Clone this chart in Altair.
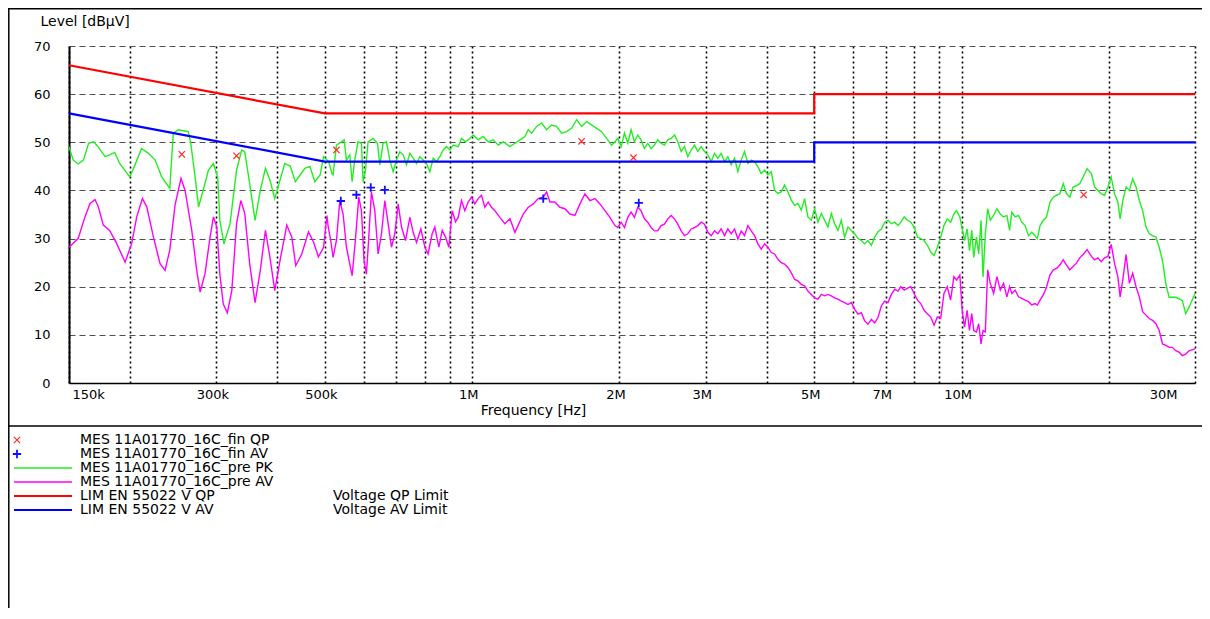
import altair as alt
import pandas as pd

FONT = "DejaVu Sans"

# ---------------- data (frequencies in kHz, levels in dBuV) ----------------
green_f_khz = [
    150, 153, 156.6, 160.5, 164.5, 168.4, 172.2, 177.8, 181.6, 186, 190.4, 199.6, 204, 211, 218, 225,
    232, 241, 245, 251, 263, 266, 271, 276, 282, 289, 296, 302, 305, 311, 320, 330, 338, 343, 351,
    360, 369, 378, 386, 395, 405, 414, 425, 435, 445, 455, 466, 477, 489, 497, 509, 517,
    519.7, 528, 540.6, 547.4, 553.4, 562.2, 568.4, 575.4, 584.6, 593.9, 598.5, 605.2, 612.8, 627.4,
    640.4, 647.5, 657.7, 668.1, 678.7, 689.4, 700.4, 711.5, 722.7, 734.2, 745.8, 757.6, 769.7, 781.8,
    794.2, 806.7, 819.5, 832.5, 845.6, 858.9, 872.5, 886.3, 900.3, 914.5, 936.3, 951, 969.1, 989,
    1004.7, 1028.7, 1053.2, 1078.2, 1104, 1130.3, 1157.2, 1194.3, 1222.8, 1251.9, 1281.7, 1302,
    1322.6, 1354.2, 1386.4, 1419.3, 1453.1, 1487.7, 1523, 1559.3, 1596.3, 1634.6, 1673.5, 1713.3,
    1753.9, 1796, 1838.7, 1882.4, 1927.2, 1957.6,
    1984, 2016, 2047.5, 2079.7, 2112.3, 2145.7, 2179.6, 2214.1, 2249.1, 2284.6, 2321, 2357.6,
    2394.8, 2432.6, 2471.1, 2510.2, 2550.4, 2590.6, 2631.6, 2673.2, 2715.4, 2758.3, 2802.5, 2846.7,
    2891.6, 2937.3, 2983.7, 3030.8, 3079.3, 3127.9, 3177.3, 3227.5, 3278.4, 3330.2, 3383.5, 3437,
    3491.3, 3546.4, 3602.4, 3659.3, 3717.9, 3776.6, 3836.2, 3896.8, 3958.3, 4020.8, 4085.2, 4149.6,
    4215.2, 4281.7, 4349.3, 4418, 4488.7, 4559.6, 4631.6, 4704.7, 4779, 4854.4, 4932.1, 5010, 5089,
    5169.4, 5251, 5333.9, 5419.3, 5504.8, 5591.7, 5680, 5769.7, 5860.8, 5954.6, 6048.6, 6144, 6241.2,
    6339.7, 6439.7, 6542.9, 6646.1, 6751, 6857.6, 6965.9, 7075.9, 7189.2, 7302.6, 7418,
    7517, 7635, 7756, 7878, 8002, 8128, 8256, 8385, 8517, 8651, 8788, 8925, 9066, 9207, 9352, 9499,
    9647, 9770, 9922, 10031, 10141, 10268, 10380, 10495, 10593, 10725, 10843, 10962, 11065, 11186,
    11310, 11451, 11630, 11814, 12000, 12188, 12380, 12536, 12672, 12871, 13075, 13279, 13489,
    13702, 13915, 14134, 14288, 14469, 14694, 14926, 15160, 15399, 15642, 15885, 16136, 16391,
    16646, 16904, 17178, 17445, 17721, 18055, 18425, 18707, 19003, 19299, 19604, 19913, 20223,
    20541, 20866, 21093, 21357, 21694, 22029, 22377, 22732, 23085, 23450, 23820, 24191, 24573,
    24961, 25349, 25749, 26156, 26563, 26977, 27404, 27830, 28270, 28716, 29163, 30000,
]
green_db = [
    49.1, 46.3, 45.5, 46.3, 49.8, 50.1, 49.0, 47.0, 47.4, 47.9, 45.6, 42.8, 45.0, 48.7, 47.7, 46.3,
    42.8, 40.4, 51.9, 52.6, 52.2, 49.8, 43.5, 36.6, 40.0, 44.2, 45.6, 42.8, 33.8, 28.9, 33.1, 44.2,
    48.4, 48.0, 41.4, 33.8, 40.0, 44.6, 42.2, 38.3, 42.2, 45.6, 45.0, 41.8, 43.2, 44.6, 45.0, 41.8,
    43.2, 47.0, 46.0, 43.5,
    43.2, 49.4, 50.1, 50.5, 46.3, 47.4, 41.8, 46.3, 50.1, 49.8, 41.8, 44.2, 50.1, 50.8,
    49.8, 45.3, 49.8, 50.1, 46.3, 43.9, 46.3, 48.0, 47.4, 45.3, 47.7, 46.7, 45.6, 47.0,
    46.3, 45.6, 43.9, 46.7, 46.0, 47.0, 48.4, 49.1, 48.4, 49.4, 49.1, 50.8, 50.1, 50.8,
    51.5, 50.5, 51.2, 50.1, 50.5, 49.4, 50.1, 49.1, 49.8, 50.5, 51.2, 52.6,
    51.9, 53.3, 54.0, 52.6, 53.6, 53.3, 51.9, 52.2, 52.9, 54.7, 53.3, 54.3,
    53.6, 52.9, 52.2, 50.8, 49.4, 50.1,
    50.8, 49.1, 51.9, 49.8, 52.6, 50.1, 51.5, 50.5, 48.7, 49.8, 48.7, 49.4,
    50.5, 49.8, 49.4, 50.5, 50.8, 51.5, 50.1, 48.1, 49.1, 47.0, 48.4, 49.4,
    48.1, 49.1, 48.1, 47.4, 46.0, 47.7, 46.7, 47.7, 46.0, 47.0, 45.3, 46.7,
    43.9, 46.3, 48.1, 45.6, 46.3, 46.0, 44.9, 43.5, 44.2, 43.2, 43.9, 40.0,
    39.4, 39.7, 41.1, 39.7, 38.0, 36.9, 37.3, 35.9, 38.3, 34.5, 33.8, 36.2, 33.4,
    35.2, 33.8, 32.4, 35.2, 33.1, 31.7, 33.8, 30.3, 32.4, 31.7, 31.0, 30.0, 29.6,
    28.9, 29.6, 28.6, 30.3, 31.4, 32.0, 33.4, 33.8, 33.1, 33.4, 32.7,
    33.4, 34.5, 33.8, 33.4, 32.4, 30.3, 30.0, 29.6, 28.6, 27.2, 26.5, 28.2, 30.3, 32.7, 34.1, 33.4,
    35.1, 35.8, 34.5, 32.0, 29.6, 32.0, 27.5, 31.7, 26.1, 30.3, 26.8, 33.8, 22.0, 31.0,
    36.2, 33.8, 34.8, 36.2, 35.1, 34.5, 34.8, 31.7, 35.5, 34.5, 34.8, 33.4, 32.7,
    30.6, 31.3, 30.6, 30.0, 32.7, 33.8, 34.5, 37.6, 38.6, 39.0, 39.3, 41.4, 39.3,
    38.6, 40.7, 41.0, 41.4, 42.8, 44.5, 43.5, 40.7, 40.0, 39.3, 39.0, 40.7, 42.8,
    39.3, 37.6, 34.1, 37.9, 40.7, 40.0, 42.4, 40.7, 37.9, 35.8, 32.4, 31.0, 30.6,
    30.3, 28.2, 25.4, 20.6, 17.8, 17.8, 17.8, 17.5, 17.1, 14.4, 15.7, 18.6,
]

mag_f_khz = [
    150, 156.6, 161.7, 165.6, 169.5, 172.2, 176.3, 181.6, 187.7, 195.3, 201.5, 206.3, 211.9, 216.3,
    223.2, 230.2, 235.7, 241, 247.1, 254.1, 259, 267.3, 273.6, 278, 284.5, 291.3, 296, 300.7, 305,
    310, 316, 322.7, 330, 336.7, 343, 351, 360, 369, 378, 386, 395, 405, 418, 428, 436, 448.6,
    462.9, 474, 485, 497, 504.8,
    507.5, 514, 519.7, 528, 536.4, 544.8, 553.4, 562.2, 568.4, 577.2, 586.5, 593.9, 601.3, 608,
    614.8, 622.5, 632.4, 642.4, 652.6, 663, 673.4, 684, 694.9, 705.9, 717.1, 730.8, 745.8, 757.6,
    769.7, 785.4, 800.4, 812.8, 828.4, 838.8, 854.8, 868.5, 882.3, 896.2, 910.3, 924.6, 936.3, 951,
    966, 981.3, 996.8, 1012.6, 1028.7, 1044.9, 1061.4, 1078.2, 1095.3, 1112.6, 1139.2, 1166.3,
    1194.3, 1222.8, 1246, 1271.6, 1302, 1333, 1364.6, 1397.3, 1419.3, 1441.7, 1476, 1511.1, 1547,
    1584, 1621.8, 1660.4, 1700, 1740.2, 1782, 1824.3, 1867.7, 1912, 1957.6,
    1984, 2016, 2047.5, 2079.7, 2112.3, 2145.7, 2179.6, 2214.1, 2249.1, 2284.6, 2321, 2357.6,
    2394.8, 2432.6, 2471.1, 2510.2, 2550.4, 2590.6, 2631.6, 2673.2, 2715.4, 2758.3, 2802.5, 2846.7,
    2891.6, 2937.3, 2983.7, 3030.8, 3079.3, 3127.9, 3177.3, 3227.5, 3278.4, 3330.2, 3383.5, 3437,
    3491.3, 3546.4, 3602.4, 3659.3, 3717.9, 3776.6, 3836.2, 3896.8, 3958.3, 4020.8, 4085.2, 4149.6,
    4215.2, 4281.7, 4349.3, 4418, 4488.7, 4559.6, 4631.6, 4704.7, 4779, 4854.4, 4932.1, 5010, 5089,
    5169.4, 5251, 5333.9, 5419.3, 5504.8, 5591.7, 5680, 5769.7, 5860.8, 5954.6, 6048.6, 6144, 6241.2,
    6339.7, 6439.7, 6542.9, 6646.1, 6751, 6857.6, 6965.9, 7075.9, 7189.2, 7302.6, 7418,
    7517, 7635, 7756, 7878, 8002, 8128, 8256, 8385, 8517, 8651, 8788, 8925, 9066, 9207, 9352, 9499,
    9647, 9770, 9922, 10031, 10141, 10268, 10380, 10495, 10593, 10725, 10843, 10962, 11065, 11186,
    11310, 11451, 11630, 11814, 12000, 12188, 12380, 12536, 12672, 12871, 13075, 13279, 13489,
    13702, 13915, 14134, 14288, 14469, 14694, 14926, 15160, 15399, 15642, 15885, 16136, 16391,
    16646, 16904, 17178, 17445, 17721, 18055, 18425, 18707, 19003, 19299, 19604, 19913, 20223,
    20541, 20866, 21093, 21357, 21694, 22029, 22377, 22732, 23085, 23450, 23820, 24191, 24573,
    24961, 25349, 25749, 26156, 26563, 26977, 27404, 27830, 28270, 28716, 29163, 30000,
]
mag_db = [
    28.2, 30.0, 34.5, 37.3, 38.1, 36.6, 32.8, 31.7, 29.0, 25.1, 29.0, 34.5, 38.3, 36.6,
    30.3, 24.8, 23.4, 27.6, 37.0, 42.5, 40.0, 31.7, 23.4, 18.9, 22.7, 30.3, 34.5, 32.4, 22.7,
    16.4, 14.6, 19.2, 33.1, 37.9, 35.2, 24.8, 16.7, 23.4, 31.7, 26.2, 19.2, 25.5, 32.8, 30.3, 24.4, 26.8,
    31.4, 29.3, 26.2, 28.2, 34.8,
    32.7, 29.6, 26.1, 29.6, 37.9, 35.1, 28.2, 24.7, 22.3, 29.6, 38.6, 35.8, 25.4, 22.6,
    30.3, 39.7, 35.8, 26.8, 31.0, 37.9, 33.1, 28.2, 31.0, 37.2, 32.4, 29.6, 34.4, 31.3,
    29.2, 32.0, 28.2, 26.8, 31.0, 32.4, 28.2, 31.7, 30.3, 28.2, 35.8, 33.5, 34.4, 37.9,
    35.8, 37.6, 38.6, 37.2, 38.3, 39.0, 36.5, 37.6, 36.5, 35.8, 34.4, 33.1,
    34.1, 31.3, 33.1, 35.1, 36.5, 37.2, 38.3, 38.6, 39.7, 37.6, 37.6, 36.5, 36.2,
    35.1, 34.8, 37.2, 39.3, 37.9, 38.3, 37.2, 35.8, 34.4, 32.7,
    32.3, 33.4, 32.3, 34.4, 35.5, 34.4, 36.5, 35.8, 34.1, 33.4, 32.3, 31.6,
    31.6, 32.7, 33.0, 34.1, 34.8, 34.1, 33.0, 31.6, 30.6, 31.0, 32.0, 32.3,
    32.7, 33.4, 33.0, 31.3, 30.6, 31.6, 31.0, 32.0, 30.6, 32.0, 31.0, 32.0,
    29.9, 31.6, 30.6, 32.7, 31.6, 30.6, 28.9, 27.8, 28.9, 28.2, 27.1, 26.8,
    25.7, 25.0, 24.7, 24.0, 22.9, 21.5, 21.2, 20.5, 20.2, 19.1, 18.4, 17.7, 17.4,
    18.4, 18.1, 18.4, 18.1, 17.7, 17.4, 17.0, 16.7, 16.3, 16.7, 15.3, 14.3, 14.6,
    12.9, 12.2, 13.2, 12.5, 13.6, 16.0, 17.0, 16.7, 18.4, 19.5, 19.1,
    20.0, 19.3, 19.7, 20.0, 18.6, 17.2, 16.5, 15.1, 14.4, 13.7, 12.0, 13.7, 13.4, 18.6, 20.0, 17.2,
    22.1, 21.4, 22.4, 15.1, 11.6, 15.1, 10.9, 14.4, 10.9, 10.6, 12.3, 8.1, 10.9, 10.6,
    23.5, 20.7, 18.6, 22.1, 19.3, 20.7, 17.9, 20.0, 18.6, 19.3, 17.9, 17.6, 17.2,
    16.9, 16.2, 16.5, 16.2, 17.2, 18.3, 20.0, 22.4, 23.5, 23.8, 24.5, 25.6, 24.5,
    23.5, 24.2, 24.9, 26.0, 26.7, 27.7, 26.3, 25.6, 26.0, 25.2, 26.0, 26.3, 28.8,
    24.9, 22.1, 17.9, 21.4, 26.7, 20.7, 22.8, 20.0, 17.9, 14.8, 14.1, 13.4, 13.0,
    12.3, 10.9, 8.1, 7.8, 7.4, 7.4, 6.7, 6.4, 5.7, 6.0, 6.7, 7.1,
]

qp_lim_f_khz = [150, 500, 5000, 5000, 30000]
qp_lim_db = [66, 56, 56, 60, 60]
av_lim_f_khz = [150, 500, 5000, 5000, 30000]
av_lim_db = [56, 46, 46, 50, 50]

qp_fin_f_khz = [255, 330, 528, 1673.5, 2136, 17770]
qp_fin_db = [47.5, 47.2, 48.4, 50.2, 46.8, 39.1]
av_fin_f_khz = [539, 580, 620.5, 663, 1397, 2190]
av_fin_db = [37.8, 39.1, 40.6, 40.1, 38.3, 37.4]

grid_hz = [150000, 200000, 300000, 400000, 500000, 600000, 700000, 800000, 900000,
           1000000, 2000000, 3000000, 4000000, 5000000, 6000000, 7000000, 8000000, 9000000,
           10000000, 20000000, 30000000]
label_hz = [150000, 300000, 500000, 1000000, 2000000, 3000000, 5000000, 7000000, 10000000, 30000000]
y_ticks = [0, 10, 20, 30, 40, 50, 60, 70]

legend_text = ["MES 11A01770_16C_fin QP", "MES 11A01770_16C_fin AV", "MES 11A01770_16C_pre PK",
               "MES 11A01770_16C_pre AV", "LIM EN 55022 V QP", "LIM EN 55022 V AV"]
legend_text2 = ["", "", "", "", "Voltage QP Limit", "Voltage AV Limit"]
legend_color = ["#ff3030", "#1010ff", "#22ee22", "#ff00ff", "#ff0000", "#0000ff"]
legend_width = [1, 1, 1.3, 1.3, 2.2, 2.2]

# ---------------- frames ----------------
def frame(f_khz, db):
    return pd.DataFrame({"f": [v * 1000 for v in f_khz], "db": db, "i": list(range(len(db)))})

green_df = frame(green_f_khz, green_db)
mag_df = frame(mag_f_khz, mag_db)
qp_df = frame(qp_lim_f_khz, qp_lim_db)
av_df = frame(av_lim_f_khz, av_lim_db)
qpf_df = frame(qp_fin_f_khz, qp_fin_db)
avf_df = frame(av_fin_f_khz, av_fin_db)

lab_list = ",".join(str(v) for v in label_hz)
xaxis = alt.Axis(
    values=grid_hz,
    title="Frequency [Hz]", titleFont=FONT, titleFontSize=14, titleFontWeight="normal",
    titleColor="black", titleX=464, titleY=27, titleAlign="center", titleBaseline="middle",
    labelExpr=("indexof([" + lab_list + "], datum.value) >= 0 ? "
               "(datum.value >= 1000000 ? (datum.value/1000000) + 'M' : (datum.value/1000) + 'k') : ''"),
    labelFont=FONT, labelFontSize=13, labelColor="black", labelPadding=5, labelOverlap=False,
    labelFlush=False,
    labelAlign={"condition": [{"test": "datum.value == 150000", "value": "left"},
                              {"test": "datum.value == 30000000", "value": "right"}],
                "value": "center"},
    labelOffset={"condition": [{"test": "datum.value == 150000", "value": 3},
                               {"test": "datum.value == 30000000", "value": -18}],
                 "value": -4},
    ticks=False, domainColor="black", domainWidth=1.5,
    grid=True, gridColor="black", gridDash=[2, 3], gridWidth=1.6, gridOpacity=1,
)
yaxis = alt.Axis(
    values=y_ticks,
    title="Level [dBµV]", titleFont=FONT, titleFontSize=14, titleFontWeight="normal",
    titleColor="black", titleAngle=0, titleX=-29, titleY=-21, titleAlign="left",
    titleBaseline="alphabetic",
    labelFont=FONT, labelFontSize=13, labelColor="black", labelPadding=19,
    ticks=False, domainColor="black", domainWidth=2,
    grid=True, gridColor="#505050", gridDash=[6, 4], gridWidth=1, gridOpacity=1,
)
xscale = alt.Scale(type="log", domain=[150000, 30000000], nice=False)
yscale = alt.Scale(domain=[0, 70], nice=False, zero=False)
X = alt.X("f:Q", scale=xscale, axis=xaxis)
Y = alt.Y("db:Q", scale=yscale, axis=yaxis)

mag_line = alt.Chart(mag_df).mark_line(color="#ff00ff", strokeWidth=1.4).encode(x=X, y=Y, order="i:Q")
green_line = alt.Chart(green_df).mark_line(color="#22ee22", strokeWidth=1.4).encode(x=X, y=Y, order="i:Q")
qp_line = alt.Chart(qp_df).mark_line(color="#ff0000", strokeWidth=2.2).encode(x=X, y=Y, order="i:Q")
av_line = alt.Chart(av_df).mark_line(color="#0000ff", strokeWidth=2.2).encode(x=X, y=Y, order="i:Q")

XSHAPE = "M-1,-1L1,1M-1,1L1,-1"
PSHAPE = "M-1,0L1,0M0,-1L0,1"
qp_pts = alt.Chart(qpf_df).mark_point(shape=XSHAPE, filled=False, color="#ff3030",
                                      strokeWidth=1.3, size=40, opacity=1).encode(x=X, y=Y)
av_pts = alt.Chart(avf_df).mark_point(shape=PSHAPE, filled=False, color="#1010ff",
                                      strokeWidth=1.8, size=70, opacity=1).encode(x=X, y=Y)

data_group = alt.layer(mag_line, green_line, qp_line, av_line, qp_pts, av_pts)

# ---------------- legend block below the plot ----------------
leg_df = pd.DataFrame({"row": list(range(6)), "t1": legend_text, "t2": legend_text2,
                       "color": legend_color, "sw": legend_width})
LY = alt.Y("row:Q", scale=alt.Scale(domain=[0, 5], range=[394, 464]), axis=None)
leg_base = alt.Chart(leg_df)
leg_t1 = leg_base.mark_text(align="left", baseline="middle", font=FONT, fontSize=14,
                            color="black").encode(x=alt.value(11), y=LY, text="t1:N")
leg_t2 = leg_base.transform_filter("datum.t2 != ''").mark_text(
    align="left", baseline="middle", font=FONT, fontSize=14, color="black").encode(
    x=alt.value(264), y=LY, text="t2:N")
leg_lines = leg_base.transform_filter("datum.row >= 2").mark_rule().encode(
    x=alt.value(-55), x2=alt.value(3), y=LY,
    color=alt.Color("color:N", scale=None), strokeWidth=alt.StrokeWidth("sw:Q", scale=None))
leg_x = leg_base.transform_filter("datum.row == 0").mark_point(
    shape=XSHAPE, filled=False, color="#ff3030", strokeWidth=1.3, size=40, opacity=1).encode(
    x=alt.value(-52), y=LY)
leg_p = leg_base.transform_filter("datum.row == 1").mark_point(
    shape=PSHAPE, filled=False, color="#1010ff", strokeWidth=1.8, size=70, opacity=1).encode(
    x=alt.value(-52), y=LY)

frame_df = pd.DataFrame({"k": [0]})
fb = alt.Chart(frame_df)
left_border = fb.mark_rule(color="black", strokeWidth=1.5).encode(
    x=alt.value(-60.2), y=alt.value(-38), y2=alt.value(565))
top_border = fb.mark_rule(color="black", strokeWidth=1.5).encode(
    x=alt.value(-61), x2=alt.value(1133), y=alt.value(-37.2))
sep_line = fb.mark_rule(color="black", strokeWidth=1.5).encode(
    x=alt.value(-61), x2=alt.value(1133), y=alt.value(380))

legend_group = alt.layer(leg_lines, leg_x, leg_p, leg_t1, leg_t2, left_border, top_border, sep_line)

chart = alt.layer(data_group, legend_group).resolve_scale(y="independent").properties(
    width=1126, height=337,
    autosize=alt.AutoSizeParams(type="none"),
    padding={"left": 61, "top": 38, "right": 7, "bottom": 225},
    background="white",
).configure_view(strokeWidth=0)

chart.save("out.html", embed_options={"renderer": "svg", "actions": False})
